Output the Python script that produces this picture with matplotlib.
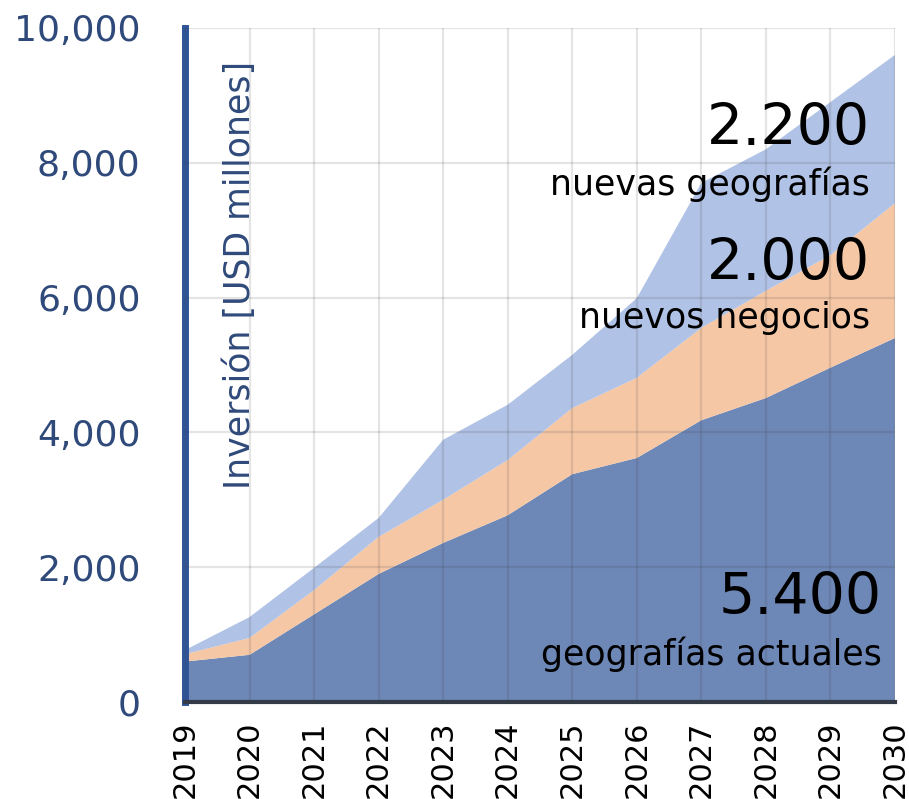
import matplotlib
matplotlib.use('Agg')
from matplotlib import pyplot as plt
from matplotlib.ticker import FuncFormatter

# investment per segment, USD millions
years = [2019, 2020, 2021, 2022, 2023, 2024, 2025, 2026, 2027, 2028, 2029, 2030]
actuales = [600, 700, 1300, 1900, 2360, 2770, 3380, 3620, 4180, 4510, 4960, 5400]
negocios = [110, 250, 360, 550, 640, 820, 980, 1190, 1370, 1590, 1670, 2000]
geografias = [60, 310, 330, 280, 890, 820, 790, 1180, 2150, 2100, 2270, 2200]

c_dark = '#6d87b6'
c_orange = '#f5c7a5'
c_light = '#b0c2e5'
c_axis = '#2f4a7a'

plt.rcParams['font.family'] = ['DejaVu Sans']
fig = plt.figure(figsize=(9.09, 7.99), dpi=100)
ax = fig.add_axes([0.2035, 0.1214, 0.781, 0.8436])

ax.stackplot(years, actuales, negocios, geografias,
             colors=[c_dark, c_orange, c_light], linewidth=0)

ax.set_xlim(2019, 2030)
ax.set_ylim(0, 10000)
ax.set_xticks(years)
ax.set_xticklabels([str(y) for y in years], rotation=90, fontsize=22)
ax.set_yticks(range(0, 10001, 2000))
ax.yaxis.set_major_formatter(FuncFormatter(lambda v, p: f'{int(v):,}'))
ax.tick_params(axis='y', labelsize=26, labelcolor=c_axis, length=0, pad=32)
ax.tick_params(axis='x', length=0, pad=13)

ax.grid(True, color='#404040', alpha=0.14, linewidth=1.6)
ax.set_axisbelow(False)

for s in ['top', 'right']:
    ax.spines[s].set_visible(False)
ax.spines['left'].set_color('#2f5597')
ax.spines['left'].set_linewidth(5)
ax.spines['bottom'].set_color('#333a48')
ax.spines['bottom'].set_linewidth(3)

ax.text(0.077, 0.634, 'Inversión [USD millones]', transform=ax.transAxes,
        rotation=90, ha='center', va='center', fontsize=25, color=c_axis)

ax.text(0.965, 0.826, '2.200', transform=ax.transAxes, ha='right',
        va='baseline', fontsize=41)
ax.text(0.965, 0.752, 'nuevas geografías', transform=ax.transAxes, ha='right',
        va='baseline', fontsize=25)
ax.text(0.965, 0.626, '2.000', transform=ax.transAxes, ha='right',
        va='baseline', fontsize=41)
ax.text(0.965, 0.555, 'nuevos negocios', transform=ax.transAxes, ha='right',
        va='baseline', fontsize=25)
ax.text(0.982, 0.13, '5.400', transform=ax.transAxes, ha='right',
        va='baseline', fontsize=41)
ax.text(0.982, 0.055, 'geografías actuales', transform=ax.transAxes, ha='right',
        va='baseline', fontsize=25)

plt.savefig('out.png', dpi=100)
